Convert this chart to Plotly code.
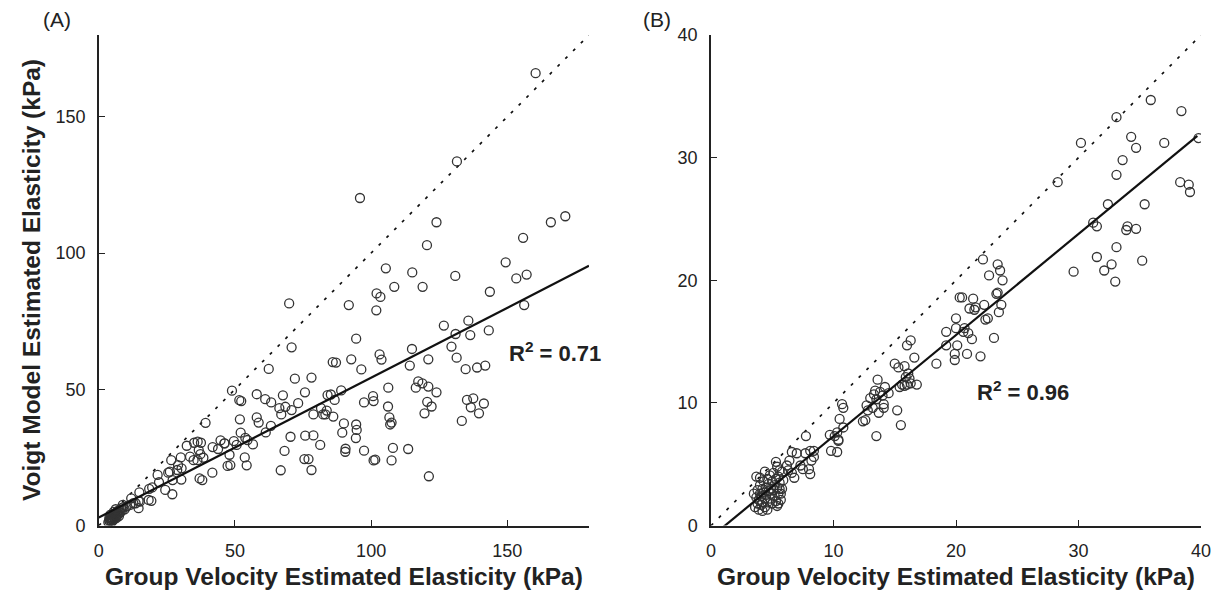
import plotly.graph_objects as go

# ---------------- Panel A data (kPa) ----------------
xa = [160.4, 131.5, 95.9, 124.0, 120.5, 155.8, 166.0, 171.3,
      149.4, 153.3, 157.1, 105.4, 115.1, 130.9, 108.5, 118.9, 143.6, 156.2,
      69.9, 91.8, 102.0, 103.4, 101.9, 126.7, 135.7, 131.0, 136.4, 143.2,
      94.5, 70.8, 129.5, 115.0, 131.4, 121.0, 92.7, 103.1, 103.8, 85.9,
      87.1, 114.2, 96.4, 134.7, 138.9, 141.9, 62.4, 72.0, 78.1, 117.3,
      118.8, 116.4, 121.0, 124.0, 106.3, 89.0, 100.7, 100.9, 97.4, 106.2,
      120.6, 122.2, 119.6, 135.2, 137.5, 136.6, 141.4, 139.6, 133.3, 106.7,
      107.5, 107.0, 108.0, 113.6, 100.9, 101.5, 107.5, 121.2, 90.0, 94.5,
      94.7, 94.4, 89.4, 90.6, 90.5, 97.4, 81.6, 82.4, 86.1, 86.6,
      84.0, 85.2, 83.2, 78.8, 75.7, 73.2, 70.8, 67.6, 68.5, 67.0,
      66.3, 70.4, 75.8, 78.8, 81.3, 68.2, 75.5, 77.0, 66.8, 78.1,
      63.2, 63.3, 61.1, 58.0, 58.0, 58.7, 61.3, 56.6, 54.6, 53.8,
      52.1, 51.6, 52.3, 51.8, 53.6, 54.3, 48.0, 47.3, 48.3, 48.9,
      50.6, 49.6, 46.2, 44.7, 43.8, 41.8, 41.7, 39.2, 37.5, 36.3,
      35.0, 36.7, 37.3, 38.4, 36.2, 37.0, 38.0, 32.3, 33.5, 30.1,
      29.1, 26.6, 26.1, 27.1, 27.0, 30.3, 28.8, 25.5, 24.4, 22.1,
      21.6, 19.6, 18.5, 18.3, 19.3, 14.9, 14.6, 14.6, 13.5, 11.9,
      30.4, 12.7, 11.5, 10.2, 15.1, 34.8, 46.1, 83.7,
      3.5, 3.8, 4.0, 4.2, 4.4, 4.5, 4.7, 4.8, 5.0, 5.1,
      5.3, 5.4, 5.6, 5.8, 6.0, 6.1, 6.3, 6.5, 6.6, 6.8,
      7.0, 7.2, 7.4, 7.6, 7.9, 8.2, 8.5, 9.0, 3.9, 5.5,
      4.3, 6.2, 8.8, 9.5]
ya = [166.0, 133.6, 120.2, 111.3, 102.9, 105.6, 111.3, 113.5,
      96.6, 90.7, 92.1, 94.4, 92.9, 91.6, 87.6, 87.6, 85.8, 80.9,
      81.5, 80.9, 85.2, 83.9, 79.0, 73.4, 75.2, 70.3, 69.9, 71.6,
      68.6, 65.4, 65.7, 64.8, 61.6, 61.0, 61.0, 62.8, 60.9, 60.0,
      59.8, 58.7, 57.3, 57.4, 58.0, 58.7, 57.5, 53.9, 54.3, 52.9,
      52.2, 50.6, 51.0, 48.9, 50.6, 49.6, 47.5, 45.7, 45.2, 43.7,
      45.4, 43.7, 41.2, 46.1, 46.7, 43.4, 44.8, 41.2, 38.4, 39.7,
      37.8, 37.1, 28.5, 28.1, 23.9, 24.2, 23.9, 18.1, 37.5, 37.1,
      35.1, 32.1, 34.1, 28.2, 27.1, 27.5, 43.1, 40.8, 40.0, 46.1,
      47.9, 48.1, 40.8, 40.8, 48.9, 44.9, 42.4, 47.8, 43.6, 40.8,
      43.1, 32.6, 33.0, 33.1, 29.6, 27.4, 24.4, 24.4, 20.3, 20.4,
      36.6, 45.2, 46.4, 48.2, 39.7, 37.8, 34.2, 29.8, 31.4, 32.2,
      34.1, 46.0, 45.7, 39.0, 25.0, 22.1, 26.0, 21.9, 22.2, 49.5,
      29.6, 31.0, 30.2, 31.3, 28.1, 28.8, 19.4, 37.7, 30.4, 30.8,
      30.4, 27.7, 26.2, 24.9, 24.0, 17.3, 16.7, 29.3, 25.3, 25.0,
      22.2, 24.0, 19.8, 16.7, 11.5, 16.9, 20.4, 19.4, 13.1, 15.9,
      18.6, 14.0, 13.5, 9.4, 9.1, 12.2, 9.0, 6.4, 8.2, 10.0,
      21.0, 8.2, 7.6, 7.0, 8.8, 24.0, 30.2, 42.2,
      1.2, 2.0, 1.5, 2.6, 1.9, 3.2, 2.3, 1.4, 2.8, 3.6,
      2.0, 4.1, 3.0, 2.5, 3.8, 4.6, 3.3, 2.8, 4.9, 3.9,
      5.4, 4.3, 3.5, 5.8, 4.8, 6.3, 5.5, 6.8, 3.0, 5.0,
      4.0, 6.0, 7.6, 6.0]

# ---------------- Panel B data (kPa) ----------------
xb = [35.9, 38.4, 33.1, 30.2, 34.3, 34.7, 37.0, 39.8, 33.6, 33.1,
      28.3, 38.3, 39.0, 39.1, 32.4, 35.4, 31.2, 31.5, 34.0, 33.9,
      34.7, 33.1, 31.5, 32.7, 32.1, 33.0, 29.6, 35.2,
      22.2, 23.4, 23.6, 22.7, 23.8, 23.3, 23.4, 23.7, 23.5, 20.3,
      20.5, 21.4, 22.3, 21.1, 21.5, 21.6, 22.4, 22.6, 20.0, 20.0,
      19.2, 20.6, 21.0, 20.7, 21.3, 23.1, 19.2, 20.1, 19.9, 20.9,
      19.9, 22.0, 18.4,
      16.3, 16.0, 16.6, 15.0, 15.3, 15.8, 16.1, 15.9, 16.2, 15.6,
      16.0, 16.3, 16.8, 15.4, 15.8,
      13.6, 13.4, 13.8, 14.2, 13.3, 14.0, 14.5, 13.0, 13.5, 12.7,
      12.8, 13.2, 14.1, 13.7, 14.1,
      15.2, 15.5, 13.5, 12.4, 12.6,
      10.7, 10.8, 10.5, 10.8, 10.3, 9.7, 10.1, 10.4, 10.4, 9.8, 10.3,
      7.75, 8.1, 7.7, 8.4, 8.4, 8.2, 8.0, 8.1, 7.5, 7.3, 7.0,
      6.6, 6.4, 6.2, 6.3, 6.8, 6.6, 5.9,
      5.3, 5.4, 5.6, 5.8, 5.6, 5.7, 5.5, 5.4,
      3.6, 3.7, 3.8, 3.8, 3.9, 3.9, 4.0, 4.0, 4.1, 4.1,
      4.2, 4.2, 4.3, 4.3, 4.4, 4.4, 4.5, 4.5, 4.6, 4.6,
      4.7, 4.7, 4.8, 4.8, 4.9, 4.9, 5.0, 5.0, 5.1, 5.1,
      5.2, 5.2, 5.3, 5.3, 5.4, 5.5, 5.5, 5.6, 3.7, 4.0,
      4.4, 3.5, 4.2, 4.6, 5.7, 5.8]
yb = [34.7, 33.8, 33.3, 31.2, 31.7, 30.8, 31.2, 31.6, 29.8, 28.6,
      28.0, 28.0, 27.8, 27.2, 26.2, 26.2, 24.7, 24.4, 24.4, 24.1,
      24.2, 22.7, 21.9, 21.3, 20.8, 19.9, 20.7, 21.6,
      21.7, 21.3, 20.8, 20.4, 20.0, 18.9, 19.0, 18.0, 17.4, 18.6,
      18.6, 18.5, 18.0, 17.7, 17.6, 17.8, 16.8, 16.9, 16.9, 16.1,
      15.8, 15.8, 15.7, 16.1, 15.2, 15.3, 14.7, 14.7, 14.0, 14.0,
      13.5, 13.8, 13.2,
      15.1, 14.7, 13.7, 13.2, 12.9, 13.0, 12.4, 12.1, 12.0, 11.5,
      11.5, 11.6, 11.5, 11.3, 11.4,
      11.9, 11.0, 10.9, 11.3, 10.7, 10.6, 10.8, 10.4, 10.3, 9.8,
      9.4, 9.6, 9.9, 9.2, 9.6,
      9.4, 8.2, 7.3, 8.5, 8.6,
      9.9, 9.6, 8.7, 8.0, 7.6, 7.4, 7.3, 7.0, 6.9, 6.1, 6.0,
      7.3, 6.1, 5.9, 6.1, 5.6, 5.3, 4.6, 4.2, 4.6, 4.9, 5.9,
      6.0, 5.3, 4.9, 4.5, 3.9, 4.3, 3.7,
      5.2, 4.8, 4.5, 4.4, 3.0, 2.6, 1.8, 1.6,
      1.5, 2.3, 1.8, 2.9, 1.3, 2.1, 2.6, 3.3, 1.7, 2.4,
      3.0, 1.9, 2.7, 3.6, 2.2, 1.5, 3.1, 2.5, 1.9, 3.8,
      2.8, 3.4, 2.2, 4.1, 3.0, 2.6, 3.6, 1.8, 2.9, 4.3,
      3.3, 2.4, 3.8, 2.0, 3.1, 4.0, 2.6, 3.5, 4.0, 3.9,
      4.4, 2.6, 1.2, 1.3, 2.1, 3.0]

# regression fits and identity lines (endpoints in data units)
fit_a_x = [0, 180]
fit_a_y = [3.0, 95.3]
fit_b_x = [0, 39.7]
fit_b_y = [-0.94, 31.77]
ident_a = [0, 180]
ident_b = [0, 40]

r2_a = "0.71"
r2_b = "0.96"

ticks_a = [0, 50, 100, 150]
ticks_b = [0, 10, 20, 30, 40]

title_x = "Group Velocity Estimated Elasticity (kPa)"
title_y = "Voigt Model Estimated Elasticity (kPa)"

# page has an 8px body margin; work in page pixels and convert
OFF = 8
W, H = 1212, 584
FONT = "Liberation Sans, Arial, sans-serif"
INK = "#222222"

marker = dict(symbol="circle-open", size=9, color="#333333", line=dict(width=1.3, color="#333333"))

fig = go.Figure()
# Panel A
fig.add_trace(go.Scatter(x=ident_a, y=ident_a, mode="lines", xaxis="x", yaxis="y",
                         line=dict(color="#111", width=1.7, dash="3px,8px"), showlegend=False))
fig.add_trace(go.Scatter(x=xa, y=ya, mode="markers", xaxis="x", yaxis="y",
                         marker=marker, showlegend=False))
fig.add_trace(go.Scatter(x=fit_a_x, y=fit_a_y, mode="lines", xaxis="x", yaxis="y",
                         line=dict(color="#111", width=2.2), showlegend=False))
# Panel B
fig.add_trace(go.Scatter(x=ident_b, y=ident_b, mode="lines", xaxis="x2", yaxis="y2",
                         line=dict(color="#111", width=1.7, dash="3px,8px"), showlegend=False))
fig.add_trace(go.Scatter(x=xb, y=yb, mode="markers", xaxis="x2", yaxis="y2",
                         marker=marker, showlegend=False))
fig.add_trace(go.Scatter(x=fit_b_x, y=fit_b_y, mode="lines", xaxis="x2", yaxis="y2",
                         line=dict(color="#111", width=2.2), showlegend=False))

def px_x(p):
    return (p - OFF) / W

def px_y(p):
    return 1 - (p - OFF) / H

axis_common = dict(showgrid=False, zeroline=False, showline=True, linecolor=INK, linewidth=1.5,
                   ticks="inside", ticklen=6, tickwidth=1.2, tickcolor=INK,
                   tickfont=dict(family=FONT, size=18, color=INK), mirror=False,
                   ticklabelstandoff=8)

dom_y = [px_y(525.6), px_y(35)]
fig.update_layout(
    width=W, height=H,
    paper_bgcolor="white", plot_bgcolor="white",
    margin=dict(l=0, r=0, t=0, b=0, autoexpand=False),
    xaxis=dict(domain=[px_x(98.8), px_x(589)], range=[0, 180], tickvals=ticks_a, anchor="y", **axis_common),
    yaxis=dict(domain=dom_y, range=[0, 180], tickvals=ticks_a, anchor="x", **axis_common),
    xaxis2=dict(domain=[px_x(711), px_x(1201)], range=[0, 40], tickvals=ticks_b, anchor="y2", **axis_common),
    yaxis2=dict(domain=dom_y, range=[0, 40], tickvals=ticks_b, anchor="x2", **axis_common),
)

ann = []
ann.append(dict(text="<b>R<sup>2</sup> = %s</b>" % r2_a, x=167.5, y=63.7, xref="x", yref="y",
                xanchor="center", yanchor="middle",
                showarrow=False, font=dict(family=FONT, size=22, color=INK)))
ann.append(dict(text="<b>R<sup>2</sup> = %s</b>" % r2_b, x=25.5, y=11.0, xref="x2", yref="y2",
                xanchor="center", yanchor="middle",
                showarrow=False, font=dict(family=FONT, size=22, color=INK)))
for cx in (344, 956):
    ann.append(dict(text="<b>%s</b>" % title_x, x=px_x(cx), y=px_y(576), xref="paper", yref="paper",
                    xanchor="center", yanchor="middle",
                    showarrow=False, font=dict(family=FONT, size=24.5, color=INK)))
ann.append(dict(text="<b>%s</b>" % title_y, x=px_x(31), y=px_y(280), xref="paper", yref="paper",
                xanchor="center", yanchor="middle",
                textangle=-90, showarrow=False, font=dict(family=FONT, size=24.5, color=INK)))
ann.append(dict(text="(A)", x=px_x(57), y=px_y(19), xref="paper", yref="paper",
                xanchor="center", yanchor="middle",
                showarrow=False, font=dict(family=FONT, size=21, color=INK)))
ann.append(dict(text="(B)", x=px_x(657), y=px_y(19), xref="paper", yref="paper",
                xanchor="center", yanchor="middle",
                showarrow=False, font=dict(family=FONT, size=21, color=INK)))
fig.update_layout(annotations=ann)

fig.write_html("out.html")
